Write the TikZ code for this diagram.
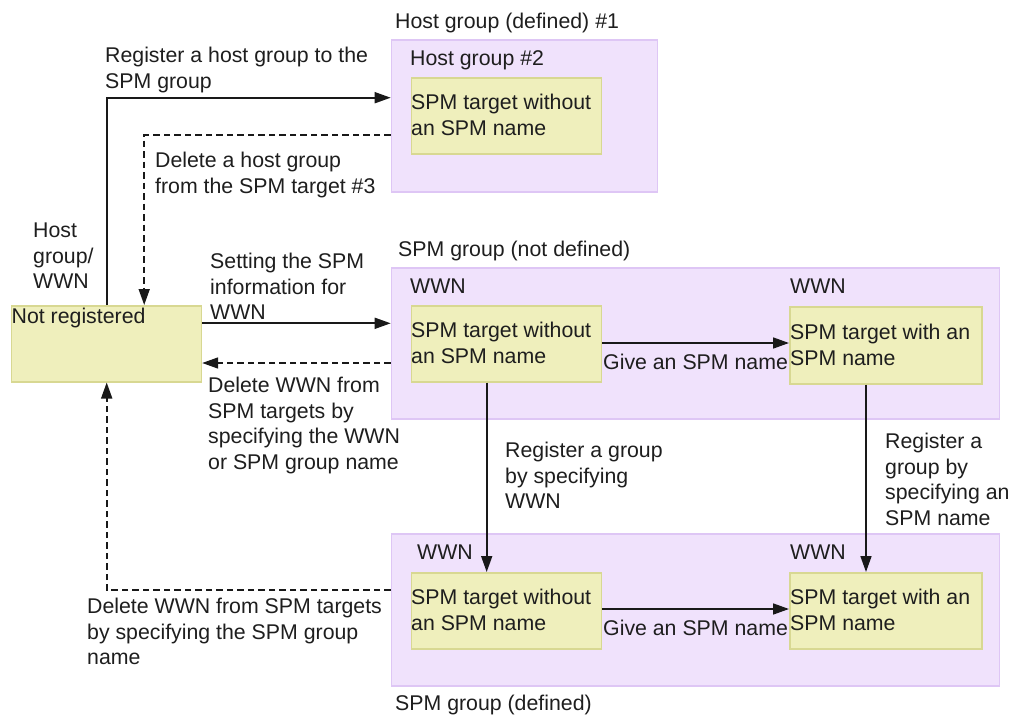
\documentclass[tikz,border=0pt]{standalone}
\usepackage{fontspec}
\setmainfont{Liberation Sans}
\usetikzlibrary{arrows.meta,calc}
\definecolor{grpfill}{RGB}{240,226,252}
\definecolor{grpline}{RGB}{222,198,245}
\definecolor{tgtfill}{RGB}{239,239,188}
\definecolor{tgtline}{RGB}{216,216,146}
\definecolor{txt}{RGB}{30,30,30}
\begin{document}
\begin{tikzpicture}[x=1pt,y=-1pt,
  grp/.style={draw=grpline,fill=grpfill,line width=1.5pt,inner sep=0pt,anchor=north west},
  tgt/.style={draw=tgtline,fill=tgtfill,line width=1.5pt,inner sep=0pt,anchor=north west},
  lbl/.style={inner sep=0pt,anchor=north west,align=left,text=txt,font=\fontsize{21.3}{25.5}\selectfont},
  arr/.style={line width=1.7pt,draw=black!90,-{Triangle[length=16pt,width=11pt]}},
  darr/.style={arr,dash pattern=on 6.5pt off 4pt}]
\useasboundingbox (0,0) rectangle (1013,715);
\fill[white] (0,0) rectangle (1013,715);
% group boxes
\node[grp,minimum width=266pt,minimum height=152pt] (hg1) at (390.7,39) {};
\node[grp,minimum width=608pt,minimum height=151pt] (sg1) at (390.7,267) {};
\node[grp,minimum width=608pt,minimum height=152pt] (sg2) at (390.7,533) {};
% target boxes
\node[tgt,minimum width=190pt,minimum height=76pt] (nr) at (10.7,305) {};
\node[tgt,minimum width=190pt,minimum height=76pt] (h) at (410.7,77) {};
\node[tgt,minimum width=190pt,minimum height=76pt] (a) at (410.7,305) {};
\node[tgt,minimum width=192pt,minimum height=77pt] (b) at (789,306) {};
\node[tgt,minimum width=190pt,minimum height=76pt] (c) at (410.7,572) {};
\node[tgt,minimum width=192pt,minimum height=76pt] (d) at (789,572) {};
% box texts
\node[lbl] (tnr) at (11.5,308) {Not registered};
\node[lbl] (th) at (411,94) {SPM target without\\an SPM name};
\node[lbl] (ta) at (411,322) {SPM target without\\an SPM name};
\node[lbl] (tb) at (790,324) {SPM target with an\\SPM name};
\node[lbl] (tc) at (411,589) {SPM target without\\an SPM name};
\node[lbl] (td) at (790,589) {SPM target with an\\SPM name};
% group labels
\node[lbl] (lhg1) at (395,13) {Host group (defined) \#1};
\node[lbl] (lhg2) at (410,50) {Host group \#2};
\node[lbl] (lsg1) at (398,241) {SPM group (not defined)};
\node[lbl] (lsg2) at (395,695) {SPM group (defined)};
\node[lbl] (wa) at (410,279) {WWN};
\node[lbl] (wb) at (790,279) {WWN};
\node[lbl] (wc) at (417,545) {WWN};
\node[lbl] (wd) at (790,545) {WWN};
\node[lbl] (lhost) at (33,223) {Host\\group/\\WWN};
% connectors
\draw[arr] ($(nr.north west)+(96,0)$) |- ($(hg1.north west)+(0,58.7)$);
\draw[darr] ($(hg1.north west)+(0,96)$) -| ($(nr.north west)+(133.5,0)$);
\draw[arr] ($(nr.north east)+(0,18.3)$) -- ($(sg1.north west)+(0,56.3)$);
\draw[darr] ($(sg1.north west)+(0,96)$) -- ($(nr.north east)+(0,58)$);
\draw[arr] ($(a.north east)+(0,38)$) -- ($(b.north west)+(0,37)$);
\draw[arr] ($(a.south west)+(76,0)$) -- ($(c.north west)+(76,0)$);
\draw[arr] ($(b.south west)+(77,0)$) -- ($(d.north west)+(77,0)$);
\draw[arr] ($(c.north east)+(0,37)$) -- ($(d.north west)+(0,37)$);
\draw[darr] ($(sg2.north west)+(0,57)$) -| ($(nr.south west)+(96,0)$);
% connector labels
\node[lbl] (l1) at (105,47) {Register a host group to the\\SPM group};
\node[lbl] (l2) at (155,152) {Delete a host group\\from the SPM target \#3};
\node[lbl] (l3) at (210,253) {Setting the SPM\\information for\\WWN};
\node[lbl] (l4) at (208,377) {Delete WWN from\\SPM targets by\\specifying the WWN\\or SPM group name};
\node[lbl] (l5) at (87,598) {Delete WWN from SPM targets\\by specifying the SPM group\\name};
\node[lbl] (l6) at (603,354) {Give an SPM name};
\node[lbl] (l7) at (603,620) {Give an SPM name};
\node[lbl] (l8) at (505,442) {Register a group\\by specifying\\WWN};
\node[lbl] (l9) at (885,433) {Register a\\group by\\specifying an\\SPM name};
\end{tikzpicture}
\end{document}
